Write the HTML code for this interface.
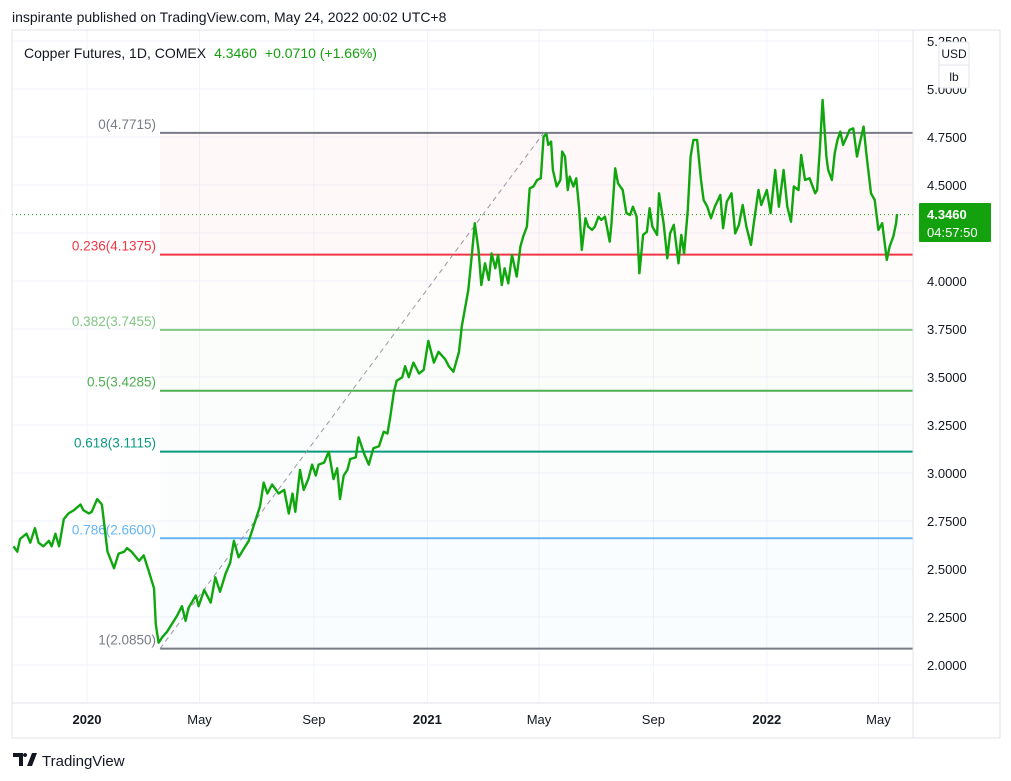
<!DOCTYPE html>
<html><head><meta charset="utf-8">
<style>
body{margin:0;background:#fff;font-family:"Liberation Sans",sans-serif;}
#wrap{position:relative;width:1011px;height:781px;overflow:hidden;background:#fff;}
</style></head>
<body>
<div id="wrap">
<svg id="chart" width="1011" height="781" xmlns="http://www.w3.org/2000/svg" font-family="Liberation Sans, sans-serif"></svg>
</div>
<script>
// ---- data ----
const dayIdx=[-79,-75,-72,-65,-61,-56,-52,-47,-41,-38,-34,-30,-25,-20,-14,-7,-4,2,5,11,16,22,29,34,40,43,48,56,61,66,72,74,77,81,86,91,97,102,106,109,117,120,126,133,138,143,149,154,158,163,169,174,179,186,190,194,199,206,212,217,221,224,229,233,238,242,246,249,255,260,265,269,272,276,280,283,289,292,298,303,308,314,319,323,326,330,333,339,342,346,351,357,362,367,373,378,385,389,394,400,403,
410,414,417,421,424,428,432,435,439,442,446,449,453,457,462,466,469,473,476,480,484,488,491,494,496,499,501,505,509,511,514,517,519,523,526,529,532,536,539,543,546,550,553,557,562,564,568,571,576,580,584,587,591,594,598,602,605,608,613,615,620,624,627,631,636,639,642,646,649,652,656,660,663,667,671,675,681,684,688,693,697,701,705,709,714,717,722,725,731,735,740,744,749,753,757,760,765,768,772,777,783,785,788,791,795,797,801,804,807,810,813,817,820,824,828,831,835,838,843,847,851,855,860,863,867,870,871];
const prices=[2.618,2.590,2.656,2.684,2.637,2.713,2.637,2.618,2.647,2.618,2.684,2.618,2.760,2.789,2.807,2.836,2.807,2.789,2.798,2.864,2.836,2.590,2.504,2.580,2.590,2.609,2.590,2.542,2.571,2.495,2.400,2.211,2.116,2.145,2.173,2.211,2.258,2.306,2.230,2.296,2.362,2.306,2.391,2.325,2.457,2.381,2.476,2.533,2.647,2.561,2.609,2.647,2.722,2.826,2.950,2.893,2.940,2.893,2.912,2.789,2.893,2.798,3.016,2.912,2.968,3.044,2.987,3.044,3.054,3.111,2.968,3.025,2.864,2.987,3.016,3.073,3.082,3.186,3.101,3.044,3.129,3.139,3.215,3.205,3.290,3.423,3.480,3.499,3.556,3.499,3.575,3.518,3.537,3.688,3.575,3.631,3.593,3.556,3.527,3.631,3.764,
3.953,4.144,4.301,4.162,3.979,4.092,4.005,4.144,4.066,4.136,3.979,4.066,3.988,4.136,4.023,4.179,4.231,4.283,4.483,4.492,4.526,4.535,4.752,4.766,4.709,4.726,4.578,4.492,4.526,4.674,4.648,4.474,4.544,4.492,4.535,4.387,4.162,4.327,4.283,4.266,4.283,4.335,4.318,4.335,4.205,4.301,4.587,4.509,4.474,4.353,4.344,4.387,4.335,4.040,4.240,4.257,4.379,4.283,4.240,4.457,4.301,4.118,4.248,4.292,4.092,4.240,4.144,4.370,4.648,4.735,4.735,4.535,4.422,4.387,4.327,4.387,4.448,4.275,4.413,4.457,4.248,4.292,4.396,4.283,4.188,4.301,4.474,4.396,4.474,4.353,4.578,4.387,4.578,4.387,4.309,4.492,4.474,4.656,4.526,4.535,4.457,4.474,4.682,4.943,4.648,4.578,4.526,4.665,4.735,4.778,4.709,4.752,4.787,4.795,4.648,4.717,4.804,4.665,4.457,4.422,4.266,4.301,4.110,4.179,4.231,4.301,4.349];
const yTicks=[2.0,2.25,2.5,2.75,3.0,3.25,3.5,3.75,4.0,4.25,4.5,4.75,5.0,5.25];
const xTickLabels=["2020","May","Sep","2021","May","Sep","2022","May"];
const xTickDays=[0,121,244,366,486,609,731,851];
const fibRatios=[0,0.236,0.382,0.5,0.618,0.786,1];
const fibValues=[4.7715,4.1375,3.7455,3.4285,3.1115,2.6600,2.0850];
const fibColors=["#787b86","#f23645","#81c784","#4caf50","#089981","#64b5f6","#787b86"];
const lastPrice=4.3460;

// ---- axes ----
const L=12,R=913,T=30,B=703;
const yS=v=>665-(v-2)*192;
const xS=d=>87+d*0.93;
const NS="http://www.w3.org/2000/svg";
const svg=document.getElementById('chart');
function mk(t,a,p){const e=document.createElementNS(NS,t);for(const k in a)e.setAttribute(k,a[k]);(p||svg).appendChild(e);return e;}

// grid
yTicks.forEach(v=>{const g=mk('line',{x1:L,x2:R,y1:yS(v),y2:yS(v),stroke:'#f0f3fa','stroke-width':1});

});
xTickDays.forEach(d=>{const g=mk('line',{x1:xS(d),x2:xS(d),y1:T,y2:B,stroke:'#f0f3fa','stroke-width':1});

});

// fib bands
const fx1=xS(78.5), fx2=R;
const bandFill=["rgba(242,54,69,0.035)","rgba(242,54,69,0.015)","rgba(129,199,132,0.03)","rgba(76,175,80,0.02)","rgba(8,153,129,0.015)","rgba(100,181,246,0.03)"];
for(let i=0;i<fibRatios.length-1;i++){
 const y1=yS(fibValues[i]),y2=yS(fibValues[i+1]);
 const b=mk('rect',{x:fx1,y:y1,width:fx2-fx1,height:y2-y1,fill:bandFill[i]});
 
 
}
fibRatios.forEach((r,i)=>{
 const v=fibValues[i],y=yS(v);
 const l=mk('line',{x1:fx1,x2:fx2,y1:y,y2:y,stroke:fibColors[i],'stroke-width':2});
 
 
 const t=mk('text',{x:fx1-4,y:y-4,'text-anchor':'end','font-size':13.5,fill:fibColors[i]});
 t.textContent=r+'('+v.toFixed(4)+')';
 
 
});
// trend dashed
const tl=mk('line',{x1:fx1,y1:yS(fibValues[6]),x2:xS(491),y2:yS(fibValues[0]),stroke:'#9598a1','stroke-width':1,'stroke-dasharray':'5,4'});



// last price dotted
const lp=mk('line',{x1:L,x2:R,y1:yS(lastPrice),y2:yS(lastPrice),stroke:'#13a10e','stroke-width':1,'stroke-dasharray':'1,3'});



// price line
let d='';dayIdx.forEach((dd,i)=>{d+=(i?'L':'M')+xS(dd).toFixed(1)+','+yS(prices[i]).toFixed(1);});
const pl=mk('path',{d:d,fill:'none',stroke:'#10a60e','stroke-width':2.4,'stroke-linejoin':'round'});



// frame / axes
const fr=mk('rect',{x:L,y:T,width:1000-L,height:738-T,fill:'none',stroke:'#e0e3eb','stroke-width':1});


const ra=mk('line',{x1:R,x2:R,y1:T,y2:738,stroke:'#e0e3eb'});


const ba=mk('line',{x1:L,x2:1000,y1:B,y2:B,stroke:'#e0e3eb'});



yTicks.forEach(v=>{const t=mk('text',{x:927,y:yS(v)+5,'font-size':13,fill:'#131722'});t.textContent=v.toFixed(4);

});
xTickLabels.forEach((s,i)=>{const bold=/^\d/.test(s);const t=mk('text',{x:xS(xTickDays[i]),y:724,'text-anchor':'middle','font-size':13,fill:'#131722','font-weight':bold?'bold':'normal'});t.textContent=s;

});

// unit boxes
const ub=mk('rect',{x:939,y:42,width:30,height:46,fill:'#fff',stroke:'#e0e3eb',rx:2});


mk('line',{x1:939,x2:969,y1:65,y2:65,stroke:'#e0e3eb'});
const u1=mk('text',{x:954,y:58,'text-anchor':'middle','font-size':12,fill:'#131722'});u1.textContent='USD';


const u2=mk('text',{x:954,y:81,'text-anchor':'middle','font-size':12,fill:'#131722'});u2.textContent='lb';



// price tag
const pt=mk('rect',{x:919,y:203,width:72,height:39,fill:'#13a10e',rx:1});


const p1=mk('text',{x:927,y:219,'font-size':13,'font-weight':'bold',fill:'#fff'});p1.textContent='4.3460';


const p2=mk('text',{x:927,y:237,'font-size':13,fill:'#fff'});p2.textContent='04:57:50';



// header
const h=mk('text',{x:12,y:22,'font-size':14,fill:'#131722'});h.textContent='inspirante published on TradingView.com, May 24, 2022 00:02 UTC+8';


const s=mk('text',{x:24,y:58,'font-size':14});


s.innerHTML='<tspan fill="#131722">Copper Futures, 1D, COMEX</tspan><tspan fill="#13a10e" dx="8">4.3460</tspan><tspan fill="#13a10e" dx="8">+0.0710 (+1.66%)</tspan>';

// footer
const lg=mk('g',{});


mk('path',{d:'M13,753 h10 v13 h-4 v-9 h-6 z M25,757 a2,2 0 1 1 0.1,0 z M27,766 l5,-13 h5 l-5,13 z',fill:'#131722'},lg);
const ft=mk('text',{x:42,y:766,'font-size':15,fill:'#131722'},lg);ft.textContent='TradingView';
</script>
</body></html>
